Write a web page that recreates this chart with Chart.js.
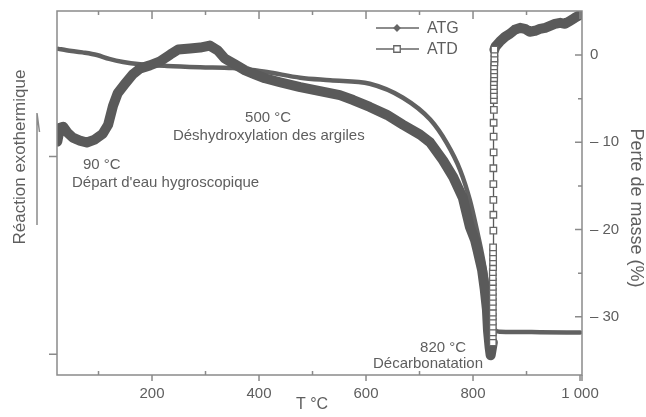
<!DOCTYPE html>
<html lang="fr">
<head>
<meta charset="utf-8">
<title>ATG / ATD</title>
<script src="https://cdn.jsdelivr.net/npm/chart.js@4.4.1/dist/chart.umd.min.js"></script>
<style>
    html, body { margin: 0; padding: 0; background: #fff; }
    #wrap { position: relative; width: 646px; height: 417px; }
</style>
</head>
<body>
<div id="wrap"><canvas id="thermo"></canvas></div>
<script>
// ATG: mass loss (%) vs temperature (°C)
const atgT = [25, 40, 70, 97, 120, 146, 178, 228, 290, 351, 383, 415, 477, 533, 607, 669, 720, 751, 776, 794, 807, 819, 828, 836, 841, 850, 925, 1000];
const atgV = [0.7, 0.55, 0.3, 0, -0.45, -0.8, -1.05, -1.25, -1.4, -1.5, -1.7, -1.95, -2.6, -2.9, -3.3, -4.9, -7.4, -10.1, -13.2, -16.6, -20, -23.5, -26.9, -29.8, -31.5, -31.7, -31.75, -31.8];

// ATD signal (arbitrary units), up to the decarbonation dip
const dtaT = [23, 28, 34, 42, 52, 65, 78, 93, 108, 118, 127, 136, 149, 164, 178, 196, 215, 234, 249, 271, 290, 308, 323, 336, 355, 374, 392, 411, 439, 477, 514, 551, 576, 607, 639, 669, 701, 720, 744, 763, 781, 794, 804, 808, 817, 822, 826, 828, 831, 833];
const dtaV = [0.75, 1.45, 1.5, 1.2, 0.95, 0.8, 0.7, 0.85, 1.15, 1.6, 2.55, 3.2, 3.65, 4.15, 4.45, 4.6, 4.8, 5.15, 5.4, 5.45, 5.5, 5.6, 5.35, 4.95, 4.65, 4.35, 4.15, 3.95, 3.75, 3.5, 3.3, 3.1, 2.85, 2.5, 2.1, 1.6, 1.1, 0.7, -0.2, -1.05, -2.1, -3.55, -4.25, -4.7, -5.75, -6.75, -7.75, -8.8, -9.65, -10.05];

// ATD recovery after the dip (sparse points, drawn with open squares)
const jumpT = [837, 837, 837, 837, 837, 837, 837, 837, 837, 837, 837, 837, 837, 837, 837, 837.5, 837.5, 837.5, 837.5, 837.5, 838, 838, 838, 838, 838, 838.5, 838.5, 838.5, 839, 839, 839, 839, 839, 839, 839.5, 839.5, 839.5, 839.5, 840, 840, 840, 840];
const jumpV = [-9.4, -9.1, -8.9, -8.6, -8.35, -8.1, -7.9, -7.6, -7.35, -7.1, -6.85, -6.6, -6.35, -6.1, -5.85, -5.6, -5.35, -5.1, -4.85, -4.6, -3.75, -2.95, -2.2, -1.4, -0.6, 0.2, 1.0, 1.7, 2.35, 2.85, 3.1, 3.35, 3.55, 3.75, 3.95, 4.15, 4.35, 4.55, 4.75, 4.95, 5.2, 5.4];

// ATD above 840 °C
const tailT = [842, 850, 860, 869, 878, 888, 897, 906, 916, 925, 935, 944, 953, 963, 972, 981, 990, 1000];
const tailV = [5.55, 5.8, 6.05, 6.2, 6.4, 6.5, 6.45, 6.3, 6.35, 6.45, 6.5, 6.6, 6.7, 6.75, 6.7, 6.85, 7.0, 7.15];

// axes
const xTicks = [200, 400, 600, 800, 1000];
const xTickText = ['200', '400', '600', '800', '1 000'];
const xMinor = [100, 300, 500, 700, 900];
const massTicks = [0, -10, -20, -30];
const massTickText = ['0', '– 10', '– 20', '– 30'];
const massMinor = [-5, -15, -25];
const dtaTicks = [0, -10];

// annotations, anchored on T and ATD value
const notes = [
    { text: '90 °C', t: 71, v: -0.64 },
    { text: "Départ d'eau hygroscopique", t: 50.5, v: -1.55 },
    { text: '500 °C', t: 374, v: 1.74 },
    { text: 'Déshydroxylation des argiles', t: 239, v: 0.83 },
    { text: '820 °C', t: 701, v: -9.89 },
    { text: 'Décarbonatation', t: 613, v: -10.7 }
];

const INK = '#5e5e5e';
const AXIS = '#8a8a8a';
const FONT = '"Liberation Sans", Arial, Helvetica, sans-serif';

const pts = (xs, ys) => xs.map((x, i) => ({ x: x, y: ys[i] }));
const atdData = pts(dtaT, dtaV).concat(pts(jumpT, jumpV), pts(tailT, tailV));
const jumpStart = dtaT.length;
const jumpEnd = jumpStart + jumpT.length - 1;
const inJump = i => i >= jumpStart && i <= jumpEnd;

// fixed axis widths, and no extra room for the end labels
const sideFit = w => s => {
    s.width = w;
    s.paddingTop = 0;
    s.paddingBottom = 0;
};

Chart.defaults.font.family = FONT;
Chart.defaults.color = INK;

const frame = {
    id: 'frame',
    afterDraw(chart) {
        const { ctx, chartArea: a, scales } = chart;
        const x = scales.x, m = scales.mass, d = scales.dta;
        ctx.save();
        ctx.strokeStyle = AXIS;
        ctx.lineWidth = 1.5;
        ctx.strokeRect(a.left, a.top, a.right - a.left, a.bottom - a.top);

        ctx.beginPath();
        ctx.moveTo(a.right, a.bottom);
        ctx.lineTo(a.right, a.bottom + 6);
        xTicks.forEach(v => {
            const px = x.getPixelForValue(v);
            ctx.moveTo(px, a.top); ctx.lineTo(px, a.top + 8);
            ctx.moveTo(px, a.bottom); ctx.lineTo(px, a.bottom + 6);
        });
        xMinor.forEach(v => {
            const px = x.getPixelForValue(v);
            ctx.moveTo(px, a.top); ctx.lineTo(px, a.top + 4);
            ctx.moveTo(px, a.bottom); ctx.lineTo(px, a.bottom - 4);
        });
        massTicks.forEach(v => {
            const py = m.getPixelForValue(v);
            ctx.moveTo(a.right, py); ctx.lineTo(a.right - 7, py);
        });
        massMinor.forEach(v => {
            const py = m.getPixelForValue(v);
            ctx.moveTo(a.right, py); ctx.lineTo(a.right - 4, py);
        });
        dtaTicks.forEach(v => {
            const py = d.getPixelForValue(v);
            ctx.moveTo(a.left, py); ctx.lineTo(a.left - 8, py);
        });
        ctx.stroke();

        // exotherm arrow next to the left title
        ctx.beginPath();
        ctx.moveTo(37, 225); ctx.lineTo(37, 113);
        ctx.lineTo(39.5, 132);
        ctx.stroke();

        ctx.fillStyle = INK;
        ctx.font = '15px ' + FONT;
        ctx.textAlign = 'left';
        ctx.textBaseline = 'alphabetic';
        notes.forEach(n => {
            ctx.fillText(n.text, x.getPixelForValue(n.t), d.getPixelForValue(n.v));
        });

        ctx.textAlign = 'center';
        ctx.textBaseline = 'middle';
        ctx.font = '16px ' + FONT;
        ctx.fillText('T °C', 312, 405);

        ctx.font = '17px ' + FONT;
        ctx.save();
        ctx.translate(20, 157);
        ctx.rotate(-Math.PI / 2);
        ctx.fillText('Réaction exothermique', 0, 0);
        ctx.restore();

        ctx.font = '18px ' + FONT;
        ctx.save();
        ctx.translate(636, 208);
        ctx.rotate(Math.PI / 2);
        ctx.fillText('Perte de masse (%)', 0, 0);
        ctx.restore();
        ctx.restore();
    }
};

// legend placed inside the plot, top right
const insideLegend = {
    id: 'insideLegend',
    afterDraw(chart) {
        const { ctx } = chart;
        const rows = [chart.data.datasets[1], chart.data.datasets[0]];
        ctx.save();
        ctx.font = '16px ' + FONT;
        ctx.textBaseline = 'middle';
        ctx.textAlign = 'left';
        rows.forEach((ds, i) => {
            const y = 28 + i * 21;
            ctx.strokeStyle = ds.legendColor;
            ctx.lineWidth = 1.3;
            ctx.beginPath();
            ctx.moveTo(376, y);
            ctx.lineTo(419, y);
            ctx.stroke();
            ctx.fillStyle = ds.legendFill;
            Chart.helpers.drawPoint(ctx, {
                pointStyle: ds.pointStyle,
                radius: ds.legendRadius,
                borderWidth: 1.3,
                rotation: 0
            }, 397, y);
            ctx.fillStyle = INK;
            ctx.fillText(ds.label, 427, y + 1);
        });
        ctx.restore();
    }
};

new Chart(document.getElementById('thermo'), {
    type: 'line',
    data: {
        datasets: [{
            label: 'ATD',
            data: atdData,
            yAxisID: 'dta',
            order: 0,
            borderColor: '#5a5a5a',
            borderWidth: 10,
            borderCapStyle: 'round',
            borderJoinStyle: 'round',
            tension: 0,
            segment: {
                borderWidth: c => (inJump(c.p0DataIndex) && inJump(c.p1DataIndex)) ? 1.3 : 10
            },
            pointStyle: 'rect',
            pointRadius: c => inJump(c.dataIndex) ? 4.6 : 0,
            pointBackgroundColor: '#fff',
            pointBorderColor: '#666',
            pointBorderWidth: 1.3,
            legendColor: '#666',
            legendFill: '#fff',
            legendRadius: 4.6
        }, {
            label: 'ATG',
            data: pts(atgT, atgV),
            yAxisID: 'mass',
            order: 1,
            borderColor: '#616161',
            borderWidth: 4.5,
            borderCapStyle: 'round',
            cubicInterpolationMode: 'monotone',
            pointStyle: 'rectRot',
            pointRadius: 0,
            legendColor: '#666',
            legendFill: '#666',
            legendRadius: 3
        }]
    },
    options: {
        responsive: true,
        maintainAspectRatio: false,
        animation: false,
        events: [],
        layout: { padding: { top: 11, left: 0, right: 0, bottom: 0 } },
        scales: {
            x: {
                type: 'linear',
                position: 'bottom',
                min: 22.4,
                max: 1003.7,
                afterFit: s => { s.height = 42; },
                afterBuildTicks: s => { s.ticks = xTicks.map(v => ({ value: v })); },
                grid: { display: false, drawTicks: false },
                border: { display: false },
                ticks: {
                    autoSkip: false,
                    maxRotation: 0,
                    padding: 10,
                    color: INK,
                    font: { size: 15 },
                    callback: v => xTickText[xTicks.indexOf(v)]
                }
            },
            dta: {
                type: 'linear',
                position: 'left',
                min: -11.05,
                max: 7.35,
                afterFit: sideFit(57),
                grid: { display: false, drawTicks: false },
                border: { display: false },
                ticks: { display: false }
            },
            mass: {
                type: 'linear',
                position: 'right',
                min: -36.66,
                max: 5.04,
                afterFit: sideFit(64),
                afterBuildTicks: s => { s.ticks = massTicks.map(v => ({ value: v })); },
                grid: { display: false, drawTicks: false },
                border: { display: false },
                ticks: {
                    autoSkip: false,
                    padding: 8,
                    color: INK,
                    font: { size: 15 },
                    callback: v => massTickText[massTicks.indexOf(v)]
                }
            }
        },
        plugins: {
            legend: { display: false },
            tooltip: { enabled: false }
        }
    },
    plugins: [frame, insideLegend]
});
</script>
</body>
</html>
